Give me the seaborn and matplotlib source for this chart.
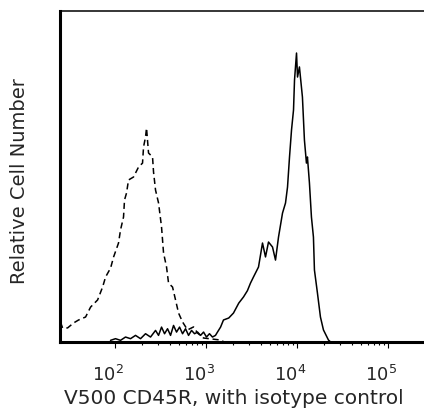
import numpy as np
import pandas as pd
import seaborn as sns
import matplotlib
import matplotlib.pyplot as plt
import matplotlib.transforms as mtransforms

matplotlib.use('Agg')

# log10 of fluorescence and relative counts
stain_log = [1.95, 2.005, 2.06, 2.115, 2.17, 2.225, 2.28, 2.335, 2.39, 2.445,
             2.478, 2.511, 2.544, 2.577, 2.61, 2.643, 2.676, 2.709, 2.742, 2.775,
             2.808, 2.841, 2.874, 2.907, 2.94, 2.973, 3.005, 3.038, 3.071, 3.104,
             3.126, 3.16, 3.192, 3.25, 3.302, 3.36, 3.412, 3.455, 3.489, 3.522,
             3.577, 3.621, 3.654, 3.687, 3.731, 3.764, 3.797, 3.841, 3.874, 3.896,
             3.918, 3.94, 3.962, 3.973, 3.995, 4.006, 4.027, 4.06, 4.082, 4.104,
             4.115, 4.137, 4.159, 4.181, 4.192, 4.225, 4.258, 4.291, 4.346, 4.37]
stain_count = [1, 2, 1, 3, 2, 4, 2, 5, 3, 7,
               4, 9, 5, 8, 4, 10, 6, 9, 5, 8,
               4, 7, 5, 6, 4, 6, 3, 5, 3, 4,
               6, 9, 13.3, 14.5, 17.5, 23.5, 27.2, 31.0, 35.6, 39.3,
               45.3, 59.8, 51.4, 60.4, 57.4, 49.5, 63.4, 77.9, 84.0, 93.6,
               111.8, 128.1, 140.2, 158.3, 174.6, 160.1, 166.2, 148.0, 122.0, 108.1,
               111.8, 96.1, 75.5, 63.4, 43.5, 29.6, 15.1, 7.3, 1.2, 0]

isotype_log = [1.40, 1.423, 1.478, 1.544, 1.599, 1.676, 1.731, 1.808, 1.863, 1.896,
               1.951, 1.984, 2.038, 2.06, 2.093, 2.104, 2.126, 2.148, 2.203, 2.258,
               2.302, 2.313, 2.335, 2.346, 2.368, 2.412, 2.423, 2.445, 2.478, 2.511,
               2.533, 2.566, 2.588, 2.632, 2.665, 2.698, 2.742, 2.797, 2.863, 2.907,
               2.973, 3.159, 3.2]
isotype_count = [12, 8.5, 8.5, 11.5, 13.3, 15.1, 21.1, 25.4, 33.2, 39.3,
                 44.7, 51.4, 59.8, 67.7, 75.5, 85.8, 90.0, 97.9, 99.7, 105.7,
                 108.1, 117.8, 123.9, 129.3, 114.2, 111.8, 102.7, 91.8, 84.0, 69.5,
                 53.8, 45.3, 35.6, 33.2, 25.4, 17.5, 12.1, 7.3, 9.1, 5.4,
                 2.4, 1.2, 0]

major_ticks = [1e2, 1e3, 1e4, 1e5]
major_labels = ['$10^{2}$', '$10^{3}$', '$10^{4}$', '$10^{5}$']

stain = pd.DataFrame({'fl': np.power(10, stain_log), 'count': stain_count})
isotype = pd.DataFrame({'fl': np.power(10, isotype_log), 'count': isotype_count})

sns.set_style("white")
plt.rcParams['font.family'] = ['DejaVu Sans']

fig = plt.figure(figsize=(4.24, 4.08), dpi=100)
ax = fig.add_axes([59.5 / 424, 66 / 408, 366.5 / 424, 331 / 408])

sns.lineplot(data=isotype, x='fl', y='count', ax=ax, color='black', lw=1.1,
             linestyle=(0, (4, 2.5)))
sns.lineplot(data=stain, x='fl', y='count', ax=ax, color='black', lw=1.1)

ax.set_xscale('log')
ax.set_xlim(24.5, 262144)
ax.set_ylim(0, 200)
ax.set_yticks([])

ax.set_xticks(major_ticks)
ax.set_xticklabels(major_labels)
ax.set_xticks([k * 10 ** d for d in (2, 3, 4) for k in range(2, 10)], minor=True)
ax.tick_params(axis='x', which='major', direction='out', length=4.5, width=0.8,
               color='black', labelsize=13, pad=12, bottom=True)
ax.tick_params(axis='x', which='minor', direction='out', length=2.5, width=0.8,
               color='black', bottom=True, labelbottom=False)
offset = mtransforms.ScaledTranslation(-7 / 100, 0, fig.dpi_scale_trans)
for lab in ax.get_xticklabels():
    lab.set_transform(lab.get_transform() + offset)

for side, lw in (('left', 2.2), ('bottom', 2.2), ('top', 1.1)):
    ax.spines[side].set_visible(True)
    ax.spines[side].set_color('black')
    ax.spines[side].set_linewidth(lw)
ax.spines['right'].set_visible(False)

ax.set_xlabel('V500 CD45R, with isotype control', fontsize=14.5, va='center')
ax.xaxis.set_label_coords(0.475, -0.172)
ax.set_ylabel('Relative Cell Number', fontsize=14, va='center')
ax.yaxis.set_label_coords(-0.108, 0.486)

fig.savefig('out.png', dpi=100)
plt.close(fig)
